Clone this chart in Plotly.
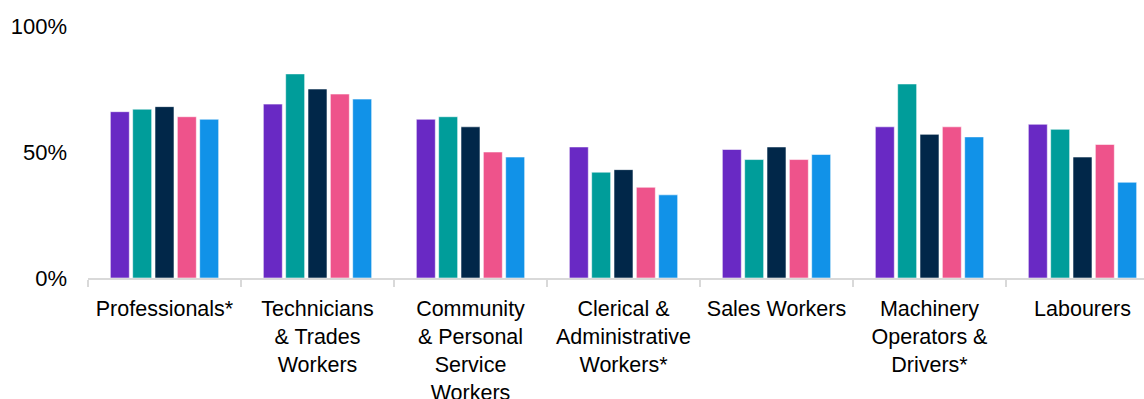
import plotly.graph_objects as go

categories = [
    "Professionals*",
    "Technicians<br>& Trades<br>Workers",
    "Community<br>& Personal<br>Service<br>Workers",
    "Clerical &<br>Administrative<br>Workers*",
    "Sales Workers",
    "Machinery<br>Operators &<br>Drivers*",
    "Labourers",
]

series_names = ["Series 1", "Series 2", "Series 3", "Series 4", "Series 5"]
s1 = [66, 69, 63, 52, 51, 60, 61]
s2 = [67, 81, 64, 42, 47, 77, 59]
s3 = [68, 75, 60, 43, 52, 57, 48]
s4 = [64, 73, 50, 36, 47, 60, 53]
s5 = [63, 71, 48, 33, 49, 56, 38]
series_values = [s1, s2, s3, s4, s5]
colors = ["#6929C4", "#009D9A", "#012749", "#EE538B", "#1192E8"]

y_tickvals = [0, 50, 100]
y_ticktext = ["0%", "50%", "100%"]

fig = go.Figure()
for name, vals, c in zip(series_names, series_values, colors):
    fig.add_trace(go.Bar(
        x=categories, y=vals, name=name,
        marker=dict(color=c, line=dict(color="rgba(255,255,255,0.55)", width=1)),
    ))

font = "Liberation Sans, Arial, sans-serif"
fig.update_layout(
    width=1144, height=399,
    margin=dict(l=88, r=0, t=26, b=121),
    paper_bgcolor="white", plot_bgcolor="white",
    barmode="group", bargap=0.27, bargroupgap=0.15,
    showlegend=False,
    font=dict(family=font, size=21.5, color="#000000"),
    xaxis=dict(
        type="category",
        range=[-0.5, 6.402],
        automargin=False,
        showline=True, linecolor="#D9D9D9", linewidth=2,
        ticks="outside", tickson="boundaries", ticklen=7, tickwidth=2, tickcolor="#D9D9D9",
        showgrid=False, ticklabelstandoff=10,
        tickfont=dict(family=font, size=21.5, color="#000000"),
    ),
    yaxis=dict(
        range=[0, 100],
        automargin=False,
        tickvals=y_tickvals, ticktext=y_ticktext,
        showgrid=False, zeroline=False, showline=False,
        ticks="", ticklabelstandoff=20,
        tickfont=dict(family=font, size=22, color="#000000"),
    ),
)

fig.write_html("out.html")
